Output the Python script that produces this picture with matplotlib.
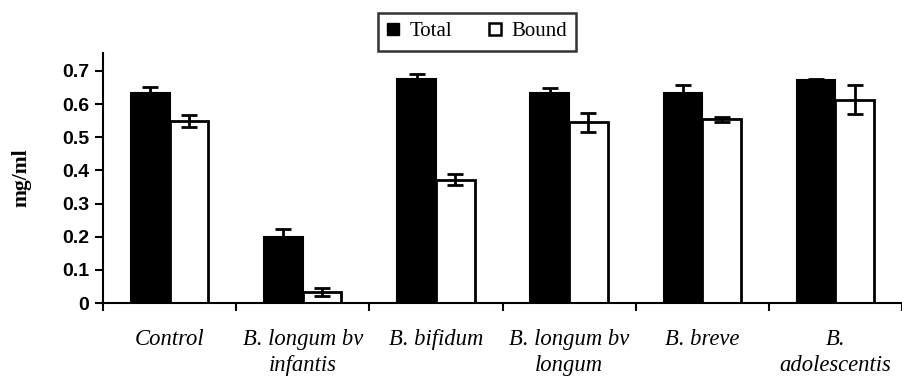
import matplotlib
matplotlib.use("Agg")
import matplotlib.pyplot as plt
from matplotlib.patches import Patch
import numpy as np

categories = ["Control", "B. longum bv\ninfantis", "B. bifidum",
              "B. longum bv\nlongum", "B. breve", "B.\nadolescentis"]
total = [0.633, 0.200, 0.675, 0.632, 0.632, 0.673]
total_err = [0.018, 0.022, 0.015, 0.016, 0.025, 0.004]
bound = [0.549, 0.034, 0.372, 0.545, 0.554, 0.613]
bound_err = [0.017, 0.012, 0.017, 0.029, 0.007, 0.044]
yticks = [0, 0.1, 0.2, 0.3, 0.4, 0.5, 0.6, 0.7]


def main():
    fig = plt.figure(figsize=(9.02, 3.78), dpi=100)
    ax = fig.add_axes([0.1142, 0.1984, 0.8858, 0.6614])

    x = np.arange(len(categories)) + 0.5
    w = 0.29
    err_style = dict(ecolor="black", elinewidth=2, capsize=6, capthick=2)
    ax.bar(x - w / 2, total, w, yerr=total_err, color="black",
           edgecolor="black", linewidth=1.5, error_kw=err_style)
    ax.bar(x + w / 2, bound, w, yerr=bound_err, color="white",
           edgecolor="black", linewidth=2, error_kw=err_style)

    ax.set_xlim(0, 5.963)
    ax.set_ylim(0, 0.754)
    ax.spines["top"].set_visible(False)
    ax.spines["right"].set_visible(False)
    ax.spines["left"].set_linewidth(1.5)
    ax.spines["bottom"].set_linewidth(1.5)

    ax.set_yticks(yticks)
    ax.set_yticklabels(["0" if v == 0 else "%.1f" % v for v in yticks],
                       fontfamily="Liberation Sans", fontweight="bold", fontsize=14)
    ax.tick_params(axis="y", length=6, width=1.5, pad=4)

    ax.set_xticks(np.arange(0, 7))
    ax.set_xticklabels([])
    ax.tick_params(axis="x", which="major", length=6, width=1.5)
    ax.set_xticks(x, minor=True)
    ax.set_xticklabels(categories, minor=True, fontfamily="Liberation Serif",
                       fontstyle="italic", fontsize=16.3, linespacing=1.3)
    ax.tick_params(axis="x", which="minor", length=0, pad=19)

    ax.set_ylabel("mg/ml", fontfamily="Liberation Serif", fontweight="bold",
                  fontsize=15.5)
    ax.yaxis.set_label_coords(-0.09, 0.5)

    handles = [Patch(facecolor="black", edgecolor="black", label="Total"),
               Patch(facecolor="white", edgecolor="black", linewidth=1.8, label="Bound")]
    leg = fig.legend(handles=handles, loc="upper center", bbox_to_anchor=(0.529, 0.966),
                     ncol=2, frameon=True, fancybox=False, edgecolor="black",
                     prop={"family": "Liberation Serif", "size": 15},
                     handlelength=0.55, handleheight=0.55, handletextpad=0.5,
                     columnspacing=1.8, borderpad=0.45, borderaxespad=0)
    leg.get_frame().set_linewidth(1.8)

    fig.savefig("out.png", dpi=100)
    plt.close(fig)


if __name__ == "__main__":
    main()
